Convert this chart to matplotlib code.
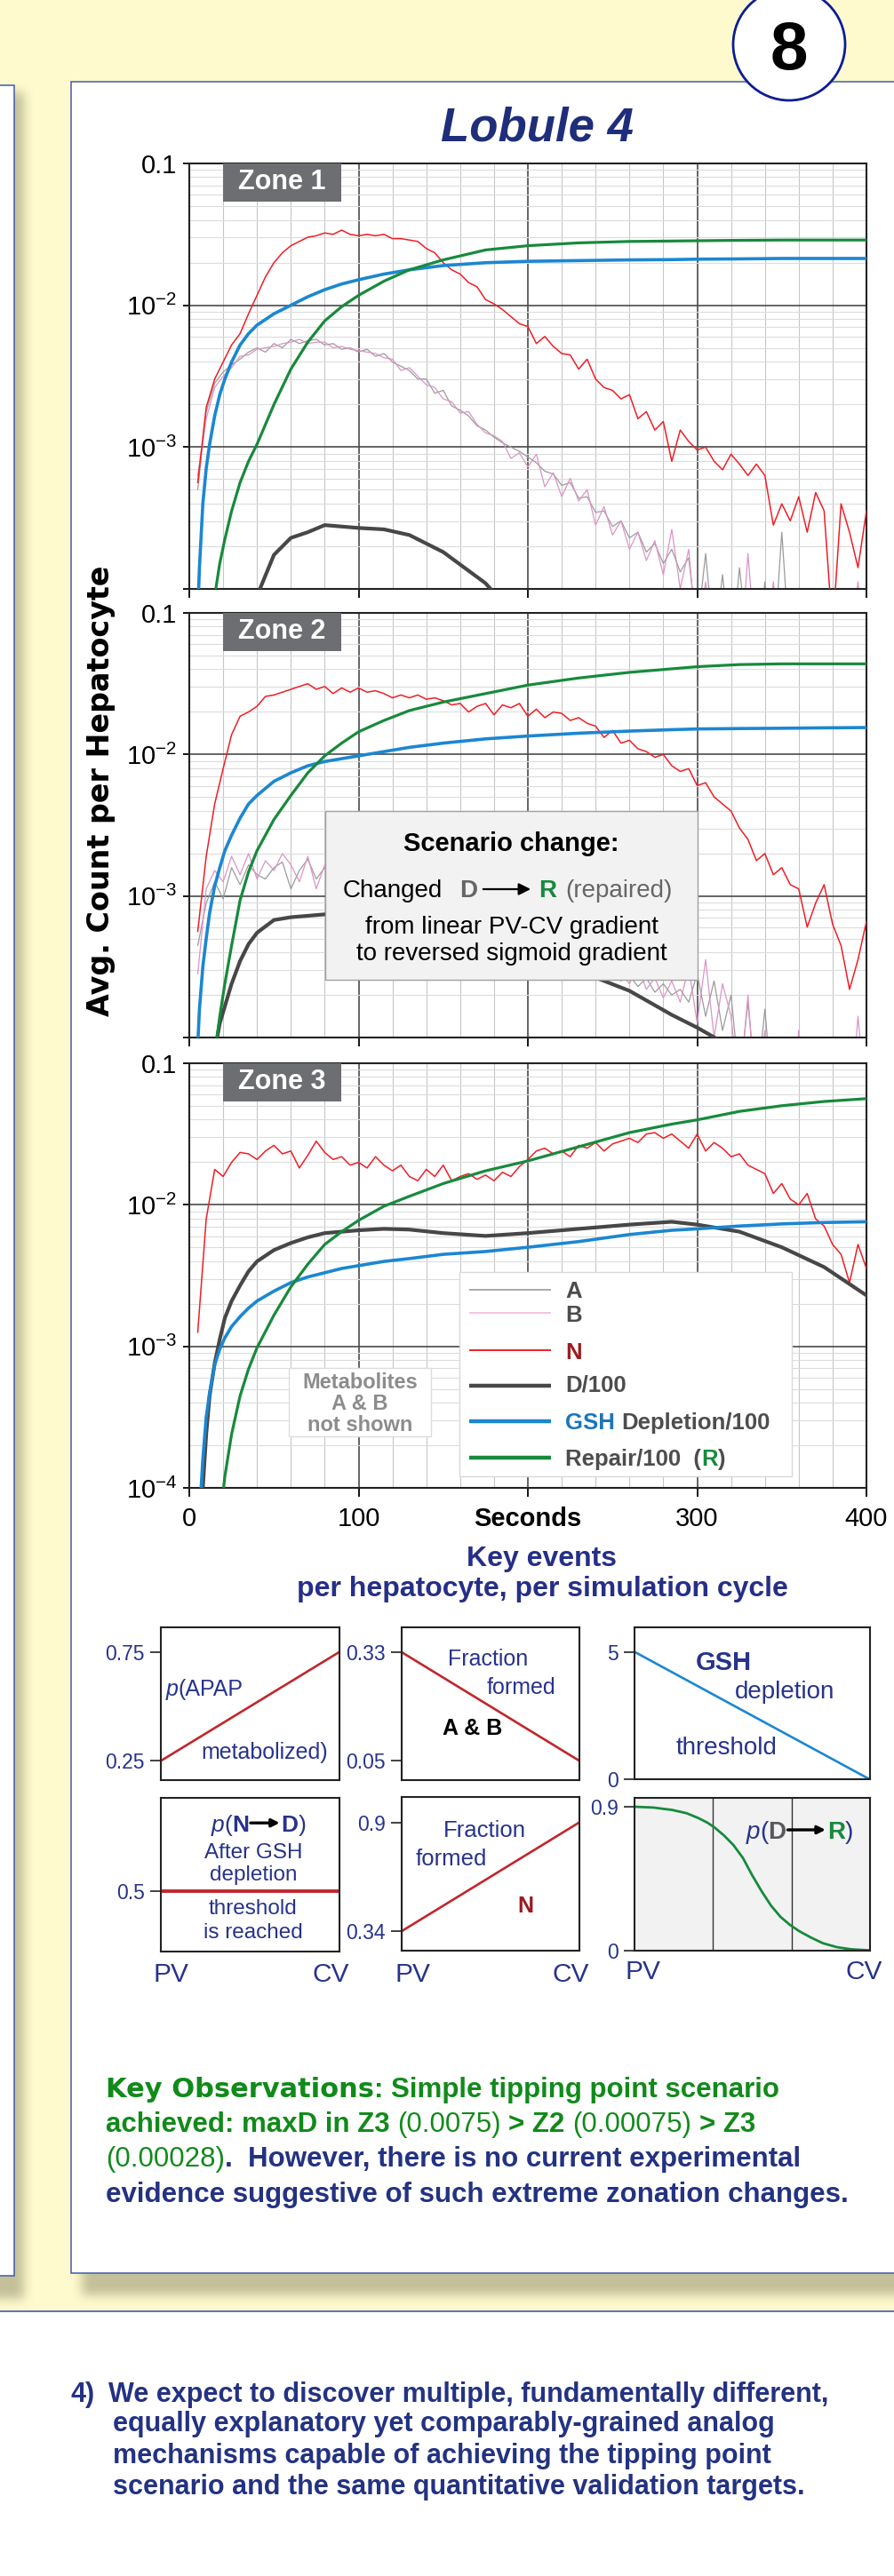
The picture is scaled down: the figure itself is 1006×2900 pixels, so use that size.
import numpy as np
import matplotlib
matplotlib.use('Agg')
import matplotlib.pyplot as plt
from matplotlib.patches import Rectangle, Circle
from matplotlib.ticker import MultipleLocator, FixedLocator, FixedFormatter, NullFormatter, LogLocator

nan = np.nan
W, H = 1006, 2900

plt.rcParams['font.family'] = ['Liberation Sans', 'DejaVu Sans']
plt.rcParams['mathtext.fontset'] = 'custom'
plt.rcParams['mathtext.rm'] = 'Liberation Sans'
plt.rcParams['mathtext.it'] = 'Liberation Sans:italic'
plt.rcParams['mathtext.bf'] = 'Liberation Sans:bold'

# ======================= DATA =======================
# time grids (seconds)
t_fine = np.arange(0, 401, 5)
t_smooth = np.array([0, 4, 6, 8, 10, 12, 15, 18, 21, 25, 30, 35, 40, 50, 60, 70, 80, 90, 100,
                     115, 130, 150, 175, 200, 230, 260, 285, 300, 325, 350, 375, 400])

# log10 of avg. count per hepatocyte
# ---- Zone 1 ----
n_z1 = [nan, -3.25, -2.72, -2.52, -2.40, -2.28, -2.20, -2.06, -1.93, -1.80,
        -1.70, -1.63, -1.58, -1.55, -1.52, -1.51, -1.49, -1.50, -1.47, -1.50,
        -1.51, -1.50, -1.51, -1.50, -1.53, -1.53, -1.54, -1.55, -1.60, -1.63,
        -1.70, -1.75, -1.78, -1.84, -1.87, -1.96, -1.99, -2.03, -2.08, -2.13,
        -2.15, -2.27, -2.22, -2.29, -2.34, -2.35, -2.45, -2.38, -2.52, -2.58,
        -2.60, -2.66, -2.63, -2.80, -2.75, -2.88, -2.82, -3.10, -2.88, -2.96,
        -3.02, -3.00, -3.10, -3.16, -3.05, -3.12, -3.20, -3.12, -3.20, -3.55,
        -3.40, -3.52, -3.35, -3.60, -3.32, -3.45, -4.30, -3.40, -3.60, -3.85,
        -3.45]
a_z1 = [nan, -3.30, -2.75, -2.55, -2.47, -2.42, -2.38, -2.33, -2.30, -2.33,
        -2.27, -2.30, -2.24, -2.27, -2.25, -2.24, -2.28, -2.27, -2.31, -2.30,
        -2.33, -2.31, -2.36, -2.34, -2.40, -2.43, -2.46, -2.52, -2.52, -2.62,
        -2.60, -2.71, -2.74, -2.78, -2.85, -2.88, -2.93, -2.97, -3.00, -3.03,
        -3.07, -3.11, -3.17, -3.19, -3.27, -3.25, -3.36, -3.35, -3.46, -3.45,
        -3.56, -3.52, -3.64, -3.60, -3.74, -3.68, -3.82, -3.72, -3.88, -3.78,
        -4.30, -3.75, -4.40, -3.90, -4.50, -3.85, -4.40, -4.50, -3.95, -4.50,
        -3.60, -4.50, -4.60, -4.50, -4.60, -4.50, -4.60, -4.50, -4.60, -4.50,
        -4.60]
b_z1 = [nan, -3.20, -2.80, -2.58, -2.50, -2.44, -2.36, -2.35, -2.31, -2.30,
        -2.29, -2.27, -2.26, -2.24, -2.27, -2.26, -2.26, -2.30, -2.29, -2.31,
        -2.32, -2.33, -2.34, -2.37, -2.38, -2.46, -2.44, -2.50, -2.56, -2.58,
        -2.66, -2.68, -2.76, -2.75, -2.84, -2.90, -2.92, -2.96, -3.08, -3.04,
        -3.14, -3.05, -3.28, -3.18, -3.35, -3.22, -3.38, -3.30, -3.55, -3.42,
        -3.62, -3.52, -3.72, -3.60, -3.80, -3.66, -3.90, -3.58, -4.00, -3.72,
        -4.40, -3.95, -4.50, -4.00, -4.50, -4.60, -3.75, -4.50, -4.60, -3.95,
        -4.50, -4.60, -4.50, -4.60, -4.50, -4.60, -4.50, -4.60, -4.50, -3.95,
        -4.60]
d_z1 = [nan, nan, nan, nan, nan, nan, nan, nan, nan, nan,
        -5.5, -4.6, -4.05, -3.76, -3.64, -3.60, -3.55, -3.56, -3.57, -3.58,
        -3.62, -3.74, -3.96, -4.3, -4.8, nan, nan, nan, nan, nan, nan, nan]
gsh_z1 = [-5.0, -4.5, -3.85, -3.4, -3.15, -2.98, -2.78, -2.63, -2.52, -2.40,
          -2.28, -2.20, -2.14, -2.06, -2.00, -1.94, -1.89, -1.85, -1.82, -1.78,
          -1.75, -1.72, -1.70, -1.69, -1.685, -1.68, -1.678, -1.675, -1.673, -1.67,
          -1.67, -1.67]
rep_z1 = [-5.5, -5.2, -4.9, -4.65, -4.45, -4.3, -4.05, -3.82, -3.65, -3.45,
          -3.25, -3.10, -2.98, -2.70, -2.45, -2.26, -2.11, -2.01, -1.93, -1.83,
          -1.75, -1.68, -1.61, -1.58, -1.56, -1.55, -1.547, -1.545, -1.542, -1.54,
          -1.54, -1.54]

# ---- Zone 2 ----
n_z2 = [nan, -3.25, -2.72, -2.35, -2.10, -1.86, -1.73, -1.70, -1.66, -1.59,
        -1.58, -1.56, -1.54, -1.52, -1.50, -1.54, -1.52, -1.57, -1.53, -1.56,
        -1.53, -1.56, -1.55, -1.57, -1.60, -1.58, -1.60, -1.58, -1.61, -1.60,
        -1.62, -1.65, -1.64, -1.70, -1.66, -1.64, -1.72, -1.65, -1.67, -1.64,
        -1.73, -1.68, -1.74, -1.70, -1.71, -1.76, -1.74, -1.78, -1.80, -1.88,
        -1.83, -1.92, -1.90, -1.96, -1.98, -2.02, -2.00, -2.08, -2.12, -2.10,
        -2.22, -2.20, -2.30, -2.35, -2.40, -2.52, -2.60, -2.75, -2.70, -2.85,
        -2.80, -2.92, -2.95, -3.22, -3.05, -2.92, -3.20, -3.35, -3.66, -3.45,
        -3.18]
a_z2 = [nan, -3.35, -3.05, -2.90, -3.02, -2.80, -2.92, -2.78, -2.85, -2.88,
        -2.80, -2.76, -2.95, -2.82, -2.74, -2.88, -2.80, -2.84, -2.86, -2.90,
        -2.88, -2.92, -2.95, -2.94, -2.98, -3.00, -3.02, -3.05, -3.06, -3.10,
        -3.12, -3.14, -3.16, -3.18, -3.20, -3.22, -3.24, -3.26, -3.28, -3.30,
        -3.32, -3.34, -3.36, -3.38, -3.40, -3.42, -3.44, -3.46, -3.48, -3.50,
        -3.52, -3.60, -3.56, -3.64, -3.58, -3.68, -3.62, -3.70, -3.66, -3.75,
        -3.55, -3.85, -3.60, -3.95, -3.70, -4.30, -3.75, -4.40, -3.80, -4.50,
        -4.60, -4.50, -4.60, -4.50, -4.60, -4.50, -4.60, -4.50, -4.60, -4.50,
        -3.95]
b_z2 = [nan, -3.55, -2.95, -2.82, -2.90, -2.72, -2.85, -2.70, -2.88, -2.75,
        -2.82, -2.70, -2.78, -2.90, -2.72, -2.95, -2.78, -2.86, -2.82, -2.93,
        -2.86, -2.95, -2.92, -2.97, -2.96, -3.02, -3.00, -3.07, -3.04, -3.12,
        -3.10, -3.16, -3.14, -3.20, -3.18, -3.24, -3.22, -3.28, -3.26, -3.32,
        -3.30, -3.36, -3.34, -3.40, -3.38, -3.44, -3.42, -3.48, -3.46, -3.52,
        -3.50, -3.55, -3.62, -3.50, -3.66, -3.58, -3.72, -3.60, -3.75, -3.50,
        -3.90, -3.45, -4.00, -3.62, -3.85, -4.40, -3.70, -4.50, -3.95, -4.60,
        -4.50, -4.60, -3.95, -4.60, -4.50, -4.60, -4.50, -4.00, -4.60, -3.85,
        -4.50]
d_z2 = [nan, nan, nan, nan, nan, nan, -4.1, -3.9, -3.78, -3.62,
        -3.46, -3.34, -3.26, -3.17, -3.15, -3.14, -3.13, -3.12, -3.13, -3.15,
        -3.19, -3.26, -3.35, -3.43, -3.53, -3.67, -3.84, -3.93, -4.1, -4.3, nan, nan]
gsh_z2 = [-5.0, -4.3, -3.8, -3.5, -3.3, -3.12, -2.93, -2.80, -2.68, -2.57,
          -2.45, -2.35, -2.29, -2.19, -2.13, -2.08, -2.05, -2.03, -2.01, -1.98,
          -1.95, -1.92, -1.89, -1.87, -1.85, -1.835, -1.825, -1.82, -1.817, -1.815,
          -1.812, -1.81]
rep_z2 = [-6.0, -5.6, -5.3, -5.0, -4.75, -4.5, -4.12, -3.85, -3.62, -3.35,
          -3.03, -2.83, -2.68, -2.46, -2.29, -2.13, -2.01, -1.92, -1.84, -1.76,
          -1.69, -1.63, -1.57, -1.51, -1.46, -1.42, -1.395, -1.38, -1.365, -1.36,
          -1.36, -1.36]

# ---- Zone 3 (A & B not shown) ----
n_z3 = [nan, -2.90, -2.10, -1.75, -1.80, -1.70, -1.63, -1.64, -1.68, -1.62,
        -1.58, -1.64, -1.62, -1.74, -1.65, -1.55, -1.63, -1.68, -1.66, -1.72,
        -1.70, -1.74, -1.66, -1.72, -1.76, -1.72, -1.80, -1.83, -1.75, -1.80,
        -1.72, -1.83, -1.80, -1.78, -1.82, -1.79, -1.83, -1.77, -1.80, -1.73,
        -1.68, -1.62, -1.60, -1.64, -1.62, -1.66, -1.58, -1.60, -1.56, -1.62,
        -1.57, -1.55, -1.53, -1.56, -1.50, -1.49, -1.53, -1.50, -1.55, -1.60,
        -1.50, -1.62, -1.56, -1.60, -1.66, -1.64, -1.72, -1.75, -1.78, -1.92,
        -1.85, -1.96, -2.00, -1.92, -2.10, -2.15, -2.28, -2.35, -2.55, -2.28,
        -2.45]
d_z3 = [-6.0, -5.0, -4.4, -4.0, -3.62, -3.35, -3.12, -2.95, -2.80, -2.68,
        -2.57, -2.47, -2.40, -2.32, -2.27, -2.23, -2.20, -2.19, -2.18, -2.17,
        -2.175, -2.20, -2.22, -2.20, -2.17, -2.14, -2.12, -2.14, -2.19, -2.30,
        -2.44, -2.64]
gsh_z3 = [-5.5, -4.7, -4.2, -3.8, -3.5, -3.33, -3.13, -3.02, -2.94, -2.86,
          -2.79, -2.73, -2.68, -2.61, -2.55, -2.51, -2.48, -2.45, -2.43, -2.40,
          -2.38, -2.35, -2.33, -2.30, -2.26, -2.21, -2.18, -2.17, -2.15, -2.135,
          -2.125, -2.12]
rep_z3 = [-6.5, -6.2, -6.0, -5.8, -5.5, -5.2, -4.7, -4.25, -3.92, -3.62,
          -3.35, -3.16, -3.01, -2.78, -2.58, -2.42, -2.28, -2.19, -2.11, -2.01,
          -1.94, -1.85, -1.76, -1.69, -1.59, -1.49, -1.43, -1.40, -1.34, -1.30,
          -1.27, -1.25]

zone_names = ['Zone 1', 'Zone 2', 'Zone 3']
y_tick_vals = [1e-4, 1e-3, 1e-2, 1e-1]
x_tick_vals = [0, 100, 200, 300, 400]
x_tick_labels = ['0', '100', 'Seconds', '300', '400']

# ---- small gradient panels (PV -> CV) ----
grad_x = [0, 1]
p_apap = [0.25, 0.75]
frac_ab = [0.33, 0.05]
gsh_threshold = [5, 0]
p_n_to_d = [0.5, 0.5]
frac_n = [0.34, 0.9]
p_dr_x = [0, 0.08, 0.16, 0.22, 0.27, 0.31, 0.34, 0.38, 0.42, 0.46, 0.50, 0.54,
          0.58, 0.62, 0.66, 0.70, 0.75, 0.80, 0.86, 0.92, 1.0]
p_dr_y = [0.90, 0.895, 0.88, 0.86, 0.83, 0.80, 0.77, 0.72, 0.66, 0.58, 0.47, 0.37,
          0.28, 0.21, 0.16, 0.12, 0.08, 0.045, 0.02, 0.007, 0.0]

# ======================= STYLE =======================
RED = '#ee1f26'
GRAY_A = '#9b9b9b'
PINK_B = '#dc94c6'
DARK = '#474747'
BLUE = '#1b87d1'
GREEN = '#178a3c'
NAVY = '#27338c'
DRED = '#c0272d'
TXTGRAY = '#4d4d4f'
OBS_GREEN = '#118a1a'
OBS_NAVY = '#233282'

fig = plt.figure(figsize=(W / 100, H / 100), dpi=100)
fig.patch.set_facecolor('white')


def px_axes(x0, y0, x1, y1):
    return fig.add_axes([x0 / W, 1 - y1 / H, (x1 - x0) / W, (y1 - y0) / H])


# ---------------- background ----------------
bg = px_axes(0, 0, W, H)
bg.set_zorder(0)
bg.axis('off')
bg.add_patch(Rectangle((0, 0), W, 2602, fc='#fffacd', ec='none', zorder=0))


def blur1d(a, r, axis):
    a = np.moveaxis(a, axis, -1)
    p = np.pad(a, [(0, 0)] * (a.ndim - 1) + [(r + 1, r)], mode='edge')
    c = np.cumsum(p, axis=-1)
    out = (c[..., 2 * r + 1:] - c[..., :-2 * r - 1]) / (2 * r + 1)
    return np.moveaxis(out, -1, axis)


mask = np.zeros((H, W))
mask[100:2584, 92:] = 1.0
mask[104:2588, :27] = 1.0
for _ in range(2):
    mask = blur1d(blur1d(mask, 6, 0), 6, 1)
rgba = np.zeros((H, W, 4))
rgba[..., 0], rgba[..., 1], rgba[..., 2] = 0.757, 0.745, 0.596
rgba[..., 3] = np.clip(mask, 0, 1) * 0.95
bg.imshow(rgba, extent=(0, W, H, 0), aspect='auto', interpolation='nearest', zorder=1)

bg.add_patch(Rectangle((-5, 96), 21.5, 2466, fc='white', ec='#3f5cab', lw=1.1, zorder=2))
bg.add_patch(Rectangle((80, 91.5), 940, 2467.5, fc='white', ec='#3f5cab', lw=1.1, zorder=2))
bg.plot([0, W], [2602, 2602], color='#3f5cab', lw=1.2, zorder=2)
bg.add_patch(Circle((888, 50), 63, fc='white', ec='#0b1d96', lw=2.0, zorder=4))
bg.text(888, 78, '8', fontsize=55, fontweight='bold', color='black', ha='center', va='baseline', zorder=5)
bg.text(605, 158.5, 'Lobule 4', fontsize=38, fontweight='bold', fontstyle='italic', color='#1f2e7a',
        ha='center', va='baseline', zorder=5)
bg.text(114, 890, 'Avg. Count per Hepatocyte', family='DejaVu Sans', fontsize=24, fontweight='bold',
        rotation=90, ha='center', va='center', color='black', zorder=5)
bg.set_xlim(0, W)
bg.set_ylim(H, 0)

# ---------------- zone charts ----------------
zone_rows = [(184, 663), (690, 1168), (1197, 1675)]
zone_data = [
    dict(a=a_z1, b=b_z1, n=n_z1, d=d_z1, g=gsh_z1, r=rep_z1),
    dict(a=a_z2, b=b_z2, n=n_z2, d=d_z2, g=gsh_z2, r=rep_z2),
    dict(a=None, b=None, n=n_z3, d=d_z3, g=gsh_z3, r=rep_z3),
]
for i, ((y0, y1), name, dd) in enumerate(zip(zone_rows, zone_names, zone_data)):
    ax = px_axes(213, y0, 975, y1)
    ax.set_zorder(5)
    ax.set_yscale('log')
    if dd['a'] is not None:
        ax.plot(t_fine, np.power(10.0, dd['a']), color=GRAY_A, lw=0.9, zorder=2)
        ax.plot(t_fine, np.power(10.0, dd['b']), color=PINK_B, lw=0.9, zorder=2)
    ax.plot(t_fine, np.power(10.0, dd['n']), color=RED, lw=1.1, zorder=3)
    ax.plot(t_smooth, np.power(10.0, dd['d']), color=DARK, lw=3.0, zorder=4)
    ax.plot(t_smooth, np.power(10.0, dd['g']), color=BLUE, lw=2.6, zorder=4)
    ax.plot(t_smooth, np.power(10.0, dd['r']), color=GREEN, lw=2.3, zorder=4)
    ax.set_xlim(0, 400)
    ax.set_ylim(1e-4, 0.1)
    ax.set_axisbelow(True)
    ax.xaxis.set_major_locator(FixedLocator(x_tick_vals))
    ax.xaxis.set_minor_locator(MultipleLocator(20))
    ax.yaxis.set_major_locator(FixedLocator(y_tick_vals))
    ax.yaxis.set_minor_locator(LogLocator(base=10, subs=np.arange(2, 10)))
    ax.yaxis.set_minor_formatter(NullFormatter())
    ylabs = [r'$\mathregular{10^{-4}}$' if i == 2 else '', r'$\mathregular{10^{-3}}$',
             r'$\mathregular{10^{-2}}$', '0.1']
    ax.yaxis.set_major_formatter(FixedFormatter(ylabs))
    ax.grid(which='minor', axis='x', color='#c6c6c6', lw=0.8)
    ax.grid(which='minor', axis='y', color='#dcdcdc', lw=0.8)
    ax.grid(which='major', color='#4a4a4a', lw=1.2)
    ax.tick_params(axis='y', which='major', direction='out', length=5, width=1.3, labelsize=21, pad=5)
    ax.tick_params(axis='x', which='major', direction='out', length=7, width=1.3, labelsize=21, pad=8)
    ax.tick_params(which='minor', length=0)
    if i == 2:
        ax.xaxis.set_major_formatter(FixedFormatter(x_tick_labels))
        ax.get_xticklabels()[2].set_fontweight('bold')
    else:
        ax.tick_params(axis='x', labelbottom=False)
    for s in ax.spines.values():
        s.set_linewidth(1.5)
        s.set_color('#222222')
    ax.add_patch(Rectangle((0.05, 0.91), 0.174, 0.09, transform=ax.transAxes, fc='#6d6e71',
                           ec='none', zorder=6))
    ax.text(0.137, 0.956, name, transform=ax.transAxes, color='white', fontsize=22,
            fontweight='bold', ha='center', va='center', zorder=7)


# ---------------- small panels ----------------
def small(x0, y0, x1, y1, ylim, ticks, labels, face='white'):
    ax = px_axes(x0, y0, x1, y1)
    ax.set_zorder(5)
    ax.set_facecolor(face)
    ax.set_xlim(0, 1)
    ax.set_ylim(*ylim)
    ax.set_xticks([])
    ax.set_yticks(ticks)
    ax.set_yticklabels(labels)
    ax.tick_params(axis='y', direction='out', length=9, width=1.3, labelsize=16.5,
                   labelcolor=NAVY, pad=4, color='#333333')
    for s in ax.spines.values():
        s.set_linewidth(1.5)
        s.set_color('#222222')
    return ax


p1 = small(181, 1831.7, 381.5, 2004, (0.1613, 0.8657), [0.25, 0.75], ['0.25', '0.75'])
p1.plot(grad_x, p_apap, color=DRED, lw=1.9)
p2 = small(452, 1831.7, 652, 2004, (0.0003, 0.3948), [0.05, 0.33], ['0.05', '0.33'])
p2.plot(grad_x, frac_ab, color=DRED, lw=1.9)
p3 = small(714, 1832.3, 979, 2003.3, (0, 5.95), [0, 5], ['0', '5'])
p3.plot(grad_x, gsh_threshold, color=BLUE, lw=1.9)
p4 = small(181, 2024.3, 381.5, 2196.7, (0.107, 1.107), [0.5], ['0.5'])
p4.plot(grad_x, p_n_to_d, color=DRED, lw=2.8)
p5 = small(452, 2023.3, 652, 2195.7, (0.241, 1.029), [0.34, 0.9], ['0.34', '0.9'])
p5.plot(grad_x, frac_n, color=DRED, lw=1.9)
p6 = small(714, 2024.3, 979, 2195.7, (0, 0.954), [0, 0.9], ['0', '0.9'], face='#f2f2f2')
p6.axvline(1 / 3, color='#333333', lw=1.0)
p6.axvline(2 / 3, color='#333333', lw=1.0)
p6.plot(p_dr_x, p_dr_y, color=GREEN, lw=2.0)

# ---------------- overlay for annotations ----------------
ov = px_axes(0, 0, W, H)
ov.set_zorder(10)
ov.patch.set_alpha(0)
ov.axis('off')
ov.set_xlim(0, W)
ov.set_ylim(H, 0)
ov.set_autoscale_on(False)

R = fig.canvas.get_renderer()


def tw(s, **kp):
    a = ov.text(0, 0, '|' + s + '|', **kp)
    b = ov.text(0, 0, '||', **kp)
    w = a.get_window_extent(R).width - b.get_window_extent(R).width
    a.remove()
    b.remove()
    return w


def rich(x, ybase, pieces, ha='left'):
    widths = [tw(s, **p) for s, p in pieces]
    total = sum(widths)
    cx = x - total / 2 if ha == 'center' else x
    spans = []
    for (s, p), w in zip(pieces, widths):
        st = s.lstrip(' ')
        lead = s[:len(s) - len(st)]
        off = tw(lead, **p) if lead else 0
        st2 = st.rstrip(' ')
        if st2:
            ov.text(cx + off, ybase, st2, ha='left', va='baseline', **p)
        spans.append((cx, cx + w))
        cx += w
    return spans


def bold_arrow(x0, x1, y):
    ov.annotate('', xy=(x1, y), xytext=(x0, y),
                arrowprops=dict(arrowstyle='-|>', color='black', lw=2.4, mutation_scale=13,
                                shrinkA=0, shrinkB=0))


# legend (zone 3)
ov.add_patch(Rectangle((517, 1432), 374, 230, fc='white', ec='#d8d8d8', lw=1.0, zorder=1))
leg = [
    (1451.5, 1460.6, GRAY_A, 1.2, [('A', dict(color=TXTGRAY))]),
    (1478.4, 1487.5, '#f2b6de', 1.2, [('B', dict(color=TXTGRAY))]),
    (1520, 1530, RED, 1.4, [('N', dict(color='#9e1b20'))]),
    (1559.5, 1566, DARK, 3.2, [('D/100', dict(color=TXTGRAY))]),
    (1600, 1609, BLUE, 3.2, [('GSH', dict(color='#1c75bc')), (' Depletion/100', dict(color=TXTGRAY))]),
    (1641, 1650, GREEN, 3.2, [('Repair/100  (', dict(color=TXTGRAY)), ('R', dict(color=GREEN)),
                              (')', dict(color=TXTGRAY))]),
]
for yl, yb, col, lw, pieces in leg:
    ov.plot([528, 620], [yl, yl], color=col, lw=lw, solid_capstyle='butt', zorder=2)
    rich(636, yb, [(s, dict(p, fontsize=18.5, fontweight='bold')) for s, p in pieces])

# metabolites note (zone 3)
ov.add_patch(Rectangle((325, 1540), 160, 77, fc='white', ec='#dddddd', lw=1.0, zorder=1))
for txt, yb in [('Metabolites', 1563), ('A & B', 1587), ('not shown', 1611)]:
    ov.text(405, yb, txt, fontsize=17, fontweight='bold', color='#8c8c8c', ha='center', va='baseline')

# scenario change box (zone 2)
ov.add_patch(Rectangle((366, 913), 419, 190, fc='#f2f2f2', ec='#a0a0a0', lw=1.0, zorder=1))
ov.text(575.5, 958, 'Scenario change:', fontsize=21, fontweight='bold', color='black',
        ha='center', va='baseline')
ov.text(386, 1009.6, 'Changed', fontsize=20, color='black', ha='left', va='baseline')
ov.text(517, 1009.6, 'D', fontsize=20, fontweight='bold', color='#666666', ha='left', va='baseline')
ov.annotate('', xy=(600, 1001), xytext=(541, 1001),
            arrowprops=dict(arrowstyle='-|>', color='black', lw=1.6, mutation_scale=20))
ov.text(606, 1009.6, 'R', fontsize=20, fontweight='bold', color=GREEN, ha='left', va='baseline')
ov.text(636, 1009.6, '(repaired)', fontsize=20, color='#666666', ha='left', va='baseline')
ov.text(575.5, 1050.7, 'from linear PV-CV gradient', fontsize=20, color='black', ha='center', va='baseline')
ov.text(575.5, 1081, 'to reversed sigmoid gradient', fontsize=20, color='black', ha='center', va='baseline')

# key events heading
ov.text(610, 1763, 'Key events', fontsize=23, fontweight='bold', color='#262f87', ha='center', va='baseline')
ov.text(610, 1797, 'per hepatocyte, per simulation cycle', fontsize=23, fontweight='bold',
        color='#262f87', ha='center', va='baseline')

# small panel annotations
NV = dict(color=NAVY)
rich(187, 1909, [('p', dict(NV, fontsize=18, fontstyle='italic')), ('(APAP', dict(NV, fontsize=18))])
ov.text(226, 1979.5, 'metabolized)', fontsize=18, color=NAVY, ha='left', va='baseline')
ov.text(549, 1875, 'Fraction', fontsize=18, color=NAVY, ha='center', va='baseline')
ov.text(586, 1906.7, 'formed', fontsize=18, color=NAVY, ha='center', va='baseline')
ov.text(532, 1953, 'A & B', fontsize=18, fontweight='bold', color='black', ha='center', va='baseline')
ov.text(814, 1880, 'GSH', fontsize=21, fontweight='bold', color=NAVY, ha='center', va='baseline')
ov.text(883, 1911.7, 'depletion', fontsize=20, color=NAVY, ha='center', va='baseline')
ov.text(818, 1975, 'threshold', fontsize=20, color=NAVY, ha='center', va='baseline')
sp = rich(291, 2061.7, [('p', dict(NV, fontsize=19, fontstyle='italic')), ('(', dict(NV, fontsize=19)),
                        ('N', dict(NV, fontsize=19, fontweight='bold')),
                        ('     ', dict(NV, fontsize=19)),
                        ('D', dict(NV, fontsize=19, fontweight='bold')), (')', dict(NV, fontsize=19))],
          ha='center')
bold_arrow(sp[3][0] + 2, sp[3][1] - 2, 2061.7 - 9.5)
for txt, yb in [('After GSH', 2091.7), ('depletion', 2116.7), ('threshold', 2155), ('is reached', 2181.7)]:
    ov.text(285, yb, txt, fontsize=17.5, color=NAVY, ha='center', va='baseline')
ov.text(545.5, 2068.3, 'Fraction', fontsize=18.5, color=NAVY, ha='center', va='baseline')
ov.text(508, 2100, 'formed', fontsize=18.5, color=NAVY, ha='center', va='baseline')
ov.text(591, 2153.3, 'N', fontsize=18, fontweight='bold', color='#9b1b1f', ha='center', va='baseline')
sp = rich(900, 2070, [('p', dict(NV, fontsize=20, fontstyle='italic')), ('(', dict(NV, fontsize=20)),
                      ('D', dict(color='#58595b', fontsize=20, fontweight='bold')),
                      ('      ', dict(NV, fontsize=20)),
                      ('R', dict(color=GREEN, fontsize=20, fontweight='bold')), (')', dict(NV, fontsize=20))],
          ha='center')
bold_arrow(sp[3][0] + 2, sp[3][1] - 2, 2070 - 10)
for xpos, yb, txt in [(192, 2231, 'PV'), (372, 2231, 'CV'), (464, 2231, 'PV'), (642, 2231, 'CV'),
                      (723.5, 2228, 'PV'), (972, 2228, 'CV')]:
    ov.text(xpos, yb, txt, fontsize=21.5, color=NAVY, ha='center', va='baseline')

# key observations
GB = dict(color=OBS_GREEN, fontsize=22.5, fontweight='bold')
GR = dict(color=OBS_GREEN, fontsize=22.5)
NB = dict(color=OBS_NAVY, fontsize=22.5, fontweight='bold')
rich(119, 2361, [('Key Observations', dict(color=OBS_GREEN, fontsize=22, fontweight='bold', family='DejaVu Sans')),
                 (': Simple tipping point scenario', GB)])
rich(119, 2400, [('achieved: maxD in Z3', GB), (' (0.0075) ', GR), ('> Z2', GB), (' (0.00075) ', GR),
                 ('> Z3', GB)])
rich(119, 2438.6, [('(0.00028)', GR), ('.  However, there is no current experimental', NB)])
rich(119, 2479, [('evidence suggestive of such extreme zonation changes.', NB)])

# bottom note
ov.text(80, 2704, '4)', fontsize=22, fontweight='bold', color=OBS_NAVY, ha='left', va='baseline')
ov.text(122, 2704, 'We expect to discover multiple, fundamentally different,', fontsize=22,
        fontweight='bold', color=OBS_NAVY, ha='left', va='baseline')
for txt, yb in [('equally explanatory yet comparably-grained analog', 2737),
                ('mechanisms capable of achieving the tipping point', 2773),
                ('scenario and the same quantitative validation targets.', 2807.6)]:
    ov.text(127, yb, txt, fontsize=22, fontweight='bold', color=OBS_NAVY, ha='left', va='baseline')

fig.savefig('out.png', dpi=100, facecolor='white')
